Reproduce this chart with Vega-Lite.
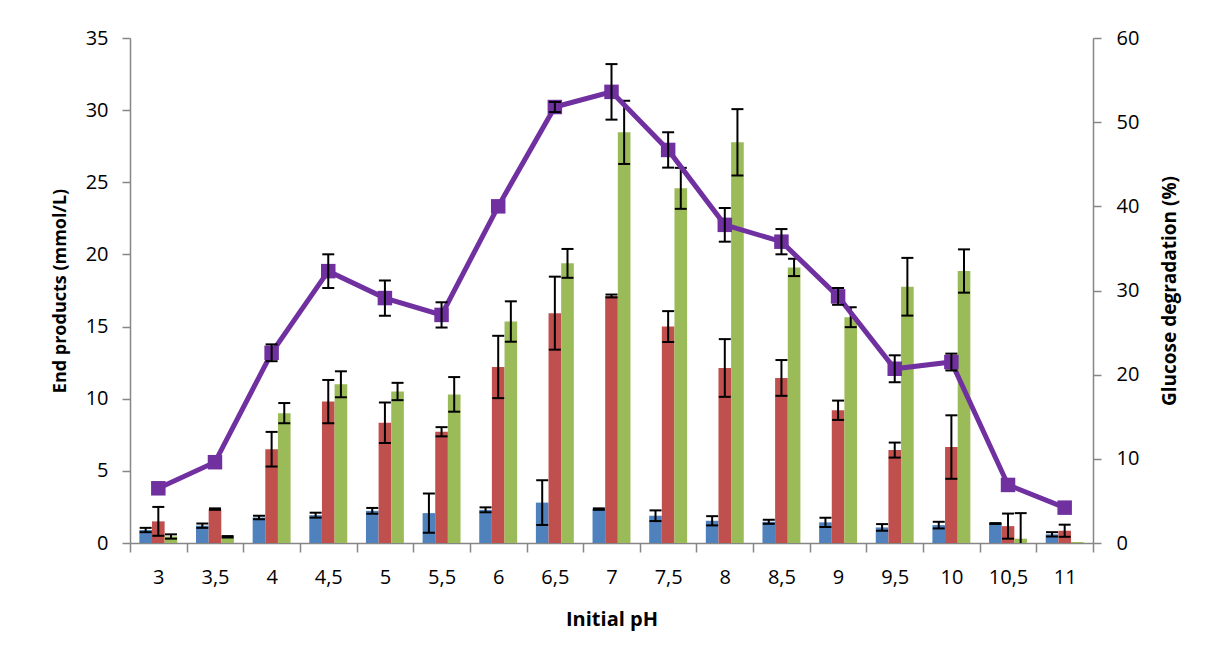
{
  "$schema": "https://vega.github.io/schema/vega-lite/v6.json",
  "width": 963,
  "height": 505,
  "autosize": {"type": "none"},
  "padding": {"left": 130, "top": 38, "right": 115, "bottom": 119},
  "background": "white",
  "config": {
    "view": {"stroke": null},
    "axis": {
      "grid": false,
      "domainColor": "#868686",
      "domainWidth": 1.5,
      "tickColor": "#868686",
      "tickWidth": 1.5,
      "tickSize": 8,
      "labelColor": "#000000",
      "labelFont": "Open Sans",
      "labelFontSize": 20,
      "titleColor": "#000000",
      "titleFont": "Open Sans",
      "titleFontSize": 19,
      "titleFontWeight": "bold"
    }
  },
  "datasets": {
    "bars": [
      {"pH": "3", "s": "s1", "v": 0.9, "lo": 0.75, "hi": 1.05},
      {"pH": "3", "s": "s2", "v": 1.5, "lo": 0.5, "hi": 2.5},
      {"pH": "3", "s": "s3", "v": 0.45, "lo": 0.3, "hi": 0.6},
      {"pH": "3,5", "s": "s1", "v": 1.2, "lo": 1.05, "hi": 1.35},
      {"pH": "3,5", "s": "s2", "v": 2.35, "lo": 2.3, "hi": 2.4},
      {"pH": "3,5", "s": "s3", "v": 0.43, "lo": 0.38, "hi": 0.48},
      {"pH": "4", "s": "s1", "v": 1.77, "lo": 1.65, "hi": 1.89},
      {"pH": "4", "s": "s2", "v": 6.5, "lo": 5.3, "hi": 7.7},
      {"pH": "4", "s": "s3", "v": 9.0, "lo": 8.3, "hi": 9.7},
      {"pH": "4,5", "s": "s1", "v": 1.93, "lo": 1.76, "hi": 2.1},
      {"pH": "4,5", "s": "s2", "v": 9.8, "lo": 8.3, "hi": 11.3},
      {"pH": "4,5", "s": "s3", "v": 11.0, "lo": 10.1, "hi": 11.9},
      {"pH": "5", "s": "s1", "v": 2.23, "lo": 2.03, "hi": 2.43},
      {"pH": "5", "s": "s2", "v": 8.33, "lo": 6.93, "hi": 9.73},
      {"pH": "5", "s": "s3", "v": 10.5, "lo": 9.9, "hi": 11.1},
      {"pH": "5,5", "s": "s1", "v": 2.07, "lo": 0.71, "hi": 3.43},
      {"pH": "5,5", "s": "s2", "v": 7.71, "lo": 7.39, "hi": 8.03},
      {"pH": "5,5", "s": "s3", "v": 10.3, "lo": 9.1, "hi": 11.5},
      {"pH": "6", "s": "s1", "v": 2.3, "lo": 2.13, "hi": 2.47},
      {"pH": "6", "s": "s2", "v": 12.2, "lo": 10.04, "hi": 14.36},
      {"pH": "6", "s": "s3", "v": 15.35, "lo": 13.95, "hi": 16.75},
      {"pH": "6,5", "s": "s1", "v": 2.8, "lo": 1.25, "hi": 4.35},
      {"pH": "6,5", "s": "s2", "v": 15.93, "lo": 13.4, "hi": 18.46},
      {"pH": "6,5", "s": "s3", "v": 19.38, "lo": 18.38, "hi": 20.38},
      {"pH": "7", "s": "s1", "v": 2.35, "lo": 2.3, "hi": 2.4},
      {"pH": "7", "s": "s2", "v": 17.12, "lo": 17.02, "hi": 17.22},
      {"pH": "7", "s": "s3", "v": 28.46, "lo": 26.27, "hi": 30.65},
      {"pH": "7,5", "s": "s1", "v": 1.89, "lo": 1.52, "hi": 2.26},
      {"pH": "7,5", "s": "s2", "v": 15.0, "lo": 13.93, "hi": 16.07},
      {"pH": "7,5", "s": "s3", "v": 24.58, "lo": 23.16, "hi": 26.0},
      {"pH": "8", "s": "s1", "v": 1.54, "lo": 1.22, "hi": 1.86},
      {"pH": "8", "s": "s2", "v": 12.13, "lo": 10.13, "hi": 14.13},
      {"pH": "8", "s": "s3", "v": 27.77, "lo": 25.47, "hi": 30.07},
      {"pH": "8,5", "s": "s1", "v": 1.47, "lo": 1.33, "hi": 1.61},
      {"pH": "8,5", "s": "s2", "v": 11.44, "lo": 10.2, "hi": 12.68},
      {"pH": "8,5", "s": "s3", "v": 19.1, "lo": 18.5, "hi": 19.7},
      {"pH": "9", "s": "s1", "v": 1.43, "lo": 1.11, "hi": 1.75},
      {"pH": "9", "s": "s2", "v": 9.2, "lo": 8.53, "hi": 9.87},
      {"pH": "9", "s": "s3", "v": 15.65, "lo": 14.96, "hi": 16.34},
      {"pH": "9,5", "s": "s1", "v": 1.08, "lo": 0.85, "hi": 1.31},
      {"pH": "9,5", "s": "s2", "v": 6.44, "lo": 5.92, "hi": 6.96},
      {"pH": "9,5", "s": "s3", "v": 17.76, "lo": 15.76, "hi": 19.76},
      {"pH": "10", "s": "s1", "v": 1.24, "lo": 1.01, "hi": 1.47},
      {"pH": "10", "s": "s2", "v": 6.65, "lo": 4.45, "hi": 8.85},
      {"pH": "10", "s": "s3", "v": 18.85, "lo": 17.35, "hi": 20.35},
      {"pH": "10,5", "s": "s1", "v": 1.35, "lo": 1.32, "hi": 1.38},
      {"pH": "10,5", "s": "s2", "v": 1.17, "lo": 0.3, "hi": 2.04},
      {"pH": "10,5", "s": "s3", "v": 0.3, "lo": -1.47, "hi": 2.07},
      {"pH": "11", "s": "s1", "v": 0.6, "lo": 0.45, "hi": 0.75},
      {"pH": "11", "s": "s2", "v": 0.85, "lo": 0.43, "hi": 1.27},
      {"pH": "11", "s": "s3", "v": 0.07, "lo": null, "hi": null}
    ],
    "line": [
      {"pH": "3", "g": 6.5, "lo": null, "hi": null},
      {"pH": "3,5", "g": 9.6, "lo": null, "hi": null},
      {"pH": "4", "g": 22.6, "lo": 21.6, "hi": 23.6},
      {"pH": "4,5", "g": 32.3, "lo": 30.3, "hi": 34.3},
      {"pH": "5", "g": 29.1, "lo": 27.0, "hi": 31.2},
      {"pH": "5,5", "g": 27.1, "lo": 25.6, "hi": 28.6},
      {"pH": "6", "g": 40.0, "lo": null, "hi": null},
      {"pH": "6,5", "g": 51.8, "lo": 51.2, "hi": 52.4},
      {"pH": "7", "g": 53.6, "lo": 50.3, "hi": 56.9},
      {"pH": "7,5", "g": 46.7, "lo": 44.6, "hi": 48.8},
      {"pH": "8", "g": 37.8, "lo": 35.8, "hi": 39.8},
      {"pH": "8,5", "g": 35.8, "lo": 34.3, "hi": 37.3},
      {"pH": "9", "g": 29.3, "lo": 28.3, "hi": 30.3},
      {"pH": "9,5", "g": 20.7, "lo": 19.1, "hi": 22.3},
      {"pH": "10", "g": 21.5, "lo": 20.5, "hi": 22.5},
      {"pH": "10,5", "g": 6.9, "lo": null, "hi": null},
      {"pH": "11", "g": 4.2, "lo": null, "hi": null}
    ]
  },
  "encoding": {
    "x": {
      "field": "pH",
      "type": "nominal",
      "scale": {
        "domain": ["3", "3,5", "4", "4,5", "5", "5,5", "6", "6,5", "7", "7,5", "8", "8,5", "9", "9,5", "10", "10,5", "11"],
        "paddingInner": 0,
        "paddingOuter": 0
      },
      "axis": {
        "title": "Initial pH",
        "labelAngle": 0,
        "tickBand": "extent",
        "tickSize": 9,
        "labelPadding": 15,
        "titlePadding": 22,
        "titleFontSize": 20
      }
    }
  },
  "layer": [
    {
      "data": {"name": "bars"},
      "encoding": {
        "xOffset": {
          "field": "s",
          "type": "nominal",
          "scale": {"domain": ["s1", "s2", "s3"], "paddingInner": 0, "paddingOuter": 0.74}
        }
      },
      "layer": [
        {
          "mark": {"type": "bar"},
          "encoding": {
            "y": {
              "field": "v",
              "type": "quantitative",
              "scale": {"domain": [0, 35], "nice": false},
              "axis": {
                "title": "End products (mmol/L)",
                "values": [0, 5, 10, 15, 20, 25, 30, 35],
                "labelPadding": 14,
                "titlePadding": 16,
                "titleFontSize": 18
              }
            },
            "color": {
              "field": "s",
              "type": "nominal",
              "scale": {"domain": ["s1", "s2", "s3"], "range": ["#4F81BD", "#C0504D", "#9BBB59"]},
              "legend": null
            }
          }
        },
        {
          "mark": {"type": "rule", "color": "#000000", "strokeWidth": 2, "clip": true},
          "encoding": {
            "y": {"field": "lo", "type": "quantitative"},
            "y2": {"field": "hi"}
          }
        },
        {
          "mark": {"type": "tick", "color": "#000000", "size": 12, "thickness": 2, "clip": true, "opacity": 1},
          "encoding": {"y": {"field": "lo", "type": "quantitative"}}
        },
        {
          "mark": {"type": "tick", "color": "#000000", "size": 12, "thickness": 2, "clip": true, "opacity": 1},
          "encoding": {"y": {"field": "hi", "type": "quantitative"}}
        }
      ]
    },
    {
      "data": {"name": "line"},
      "layer": [
        {
          "mark": {"type": "line", "color": "#7030A0", "strokeWidth": 5},
          "encoding": {
            "y": {
              "field": "g",
              "type": "quantitative",
              "scale": {"domain": [0, 60], "nice": false},
              "axis": {
                "orient": "right",
                "title": "Glucose degradation (%)",
                "values": [0, 10, 20, 30, 40, 50, 60],
                "labelPadding": 15,
                "titlePadding": 22,
                "titleAngle": 270,
                "titleBaseline": "top"
              }
            }
          }
        },
        {
          "mark": {"type": "point", "shape": "square", "filled": true, "color": "#7030A0", "size": 210, "opacity": 1},
          "encoding": {"y": {"field": "g", "type": "quantitative"}}
        },
        {
          "mark": {"type": "rule", "color": "#000000", "strokeWidth": 2},
          "encoding": {
            "y": {"field": "lo", "type": "quantitative"},
            "y2": {"field": "hi"}
          }
        },
        {
          "mark": {"type": "tick", "color": "#000000", "size": 12, "thickness": 2, "opacity": 1},
          "encoding": {"y": {"field": "lo", "type": "quantitative"}}
        },
        {
          "mark": {"type": "tick", "color": "#000000", "size": 12, "thickness": 2, "opacity": 1},
          "encoding": {"y": {"field": "hi", "type": "quantitative"}}
        }
      ]
    }
  ],
  "resolve": {"scale": {"y": "independent"}}
}
